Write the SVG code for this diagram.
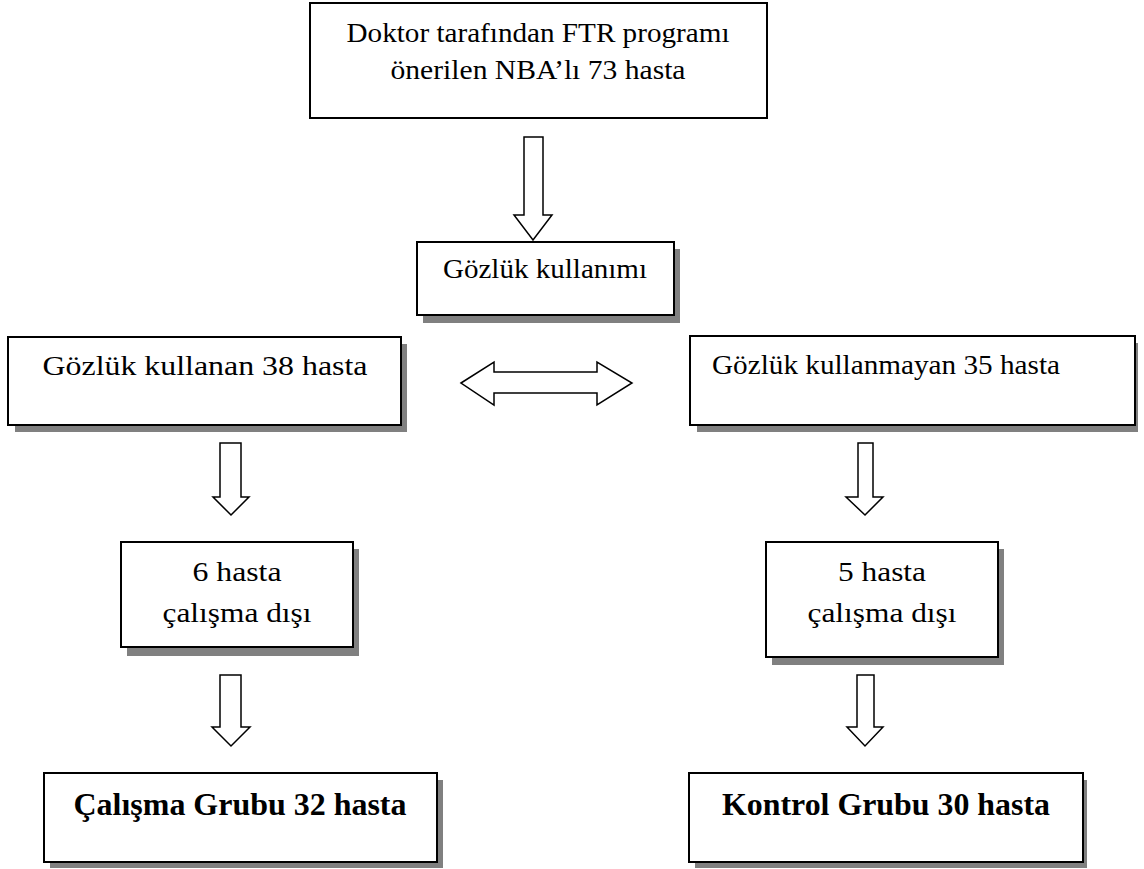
<svg xmlns="http://www.w3.org/2000/svg" width="1144" height="869" viewBox="0 0 1144 869">
<style>
.box{fill:#fff;stroke:#000;stroke-width:2}
.sh{fill:#808080}
.arr{fill:#fff;stroke:#000;stroke-width:1.5;stroke-linejoin:miter}
</style>
<rect width="1144" height="869" fill="#fff"/>
<g id="connectors">
<polygon class="arr" points="524,137 543,137 543,215 552,215 533,240 514,215 524,215"/>
<polygon class="arr" points="461,383 494,362 494,372 597,372 597,362 632,383 597,405 597,393 494,393 494,405"/>
<polygon class="arr" points="220,443 241,443 241,497 249,497 231,515 213,497 220,497"/>
<polygon class="arr" points="858,443 873,443 873,497 883,497 865,515 846,497 858,497"/>
<polygon class="arr" points="220,675 241,675 241,727 250,727 231,746 212,727 220,727"/>
<polygon class="arr" points="857,675 874,675 874,727 883,727 865,746 847,727 857,727"/>
</g>
<g font-family="Liberation Serif, serif" font-size="28" fill="#000">
<g id="n1">
<rect class="box" x="310" y="3" width="457" height="115"/>
<text x="538" y="42" text-anchor="middle" textLength="383" lengthAdjust="spacingAndGlyphs">Doktor tarafından FTR programı</text>
<text x="538" y="79" text-anchor="middle" textLength="295" lengthAdjust="spacingAndGlyphs">önerilen NBA’lı 73 hasta</text>
</g>
<g id="n2">
<rect class="sh" x="423" y="249" width="257" height="74"/>
<rect class="box" x="417" y="242" width="257" height="73"/>
<text x="545" y="278" text-anchor="middle" textLength="204" lengthAdjust="spacingAndGlyphs">Gözlük kullanımı</text>
</g>
<g id="n3">
<rect class="sh" x="15" y="344" width="392" height="88"/>
<rect class="box" x="8" y="337" width="393" height="88"/>
<text x="205" y="375" text-anchor="middle" textLength="325" lengthAdjust="spacingAndGlyphs">Gözlük kullanan 38 hasta</text>
</g>
<g id="n4">
<rect class="sh" x="697" y="343" width="441" height="89"/>
<rect class="box" x="690" y="336" width="445" height="89"/>
<text x="712" y="374" textLength="348" lengthAdjust="spacingAndGlyphs">Gözlük kullanmayan 35 hasta</text>
</g>
<g id="n5">
<rect class="sh" x="127" y="549" width="232" height="107"/>
<rect class="box" x="121" y="542" width="232" height="105"/>
<text x="237" y="581" text-anchor="middle" textLength="89" lengthAdjust="spacingAndGlyphs">6 hasta</text>
<text x="237" y="622" text-anchor="middle" textLength="149" lengthAdjust="spacingAndGlyphs">çalışma dışı</text>
</g>
<g id="n6">
<rect class="sh" x="772" y="549" width="232" height="116"/>
<rect class="box" x="766" y="542" width="232" height="115"/>
<text x="882" y="581" text-anchor="middle" textLength="88" lengthAdjust="spacingAndGlyphs">5 hasta</text>
<text x="882" y="622" text-anchor="middle" textLength="149" lengthAdjust="spacingAndGlyphs">çalışma dışı</text>
</g>
<g id="n7">
<rect class="sh" x="50" y="780" width="393" height="88"/>
<rect class="box" x="44" y="773" width="393" height="89"/>
<text x="240" y="815" text-anchor="middle" font-size="31" font-weight="bold" textLength="333" lengthAdjust="spacingAndGlyphs">Çalışma Grubu 32 hasta</text>
</g>
<g id="n8">
<rect class="sh" x="695" y="780" width="392" height="88"/>
<rect class="box" x="689" y="773" width="394" height="89"/>
<text x="886" y="815" text-anchor="middle" font-size="31" font-weight="bold" textLength="328" lengthAdjust="spacingAndGlyphs">Kontrol Grubu 30 hasta</text>
</g>
</g>
</svg>
